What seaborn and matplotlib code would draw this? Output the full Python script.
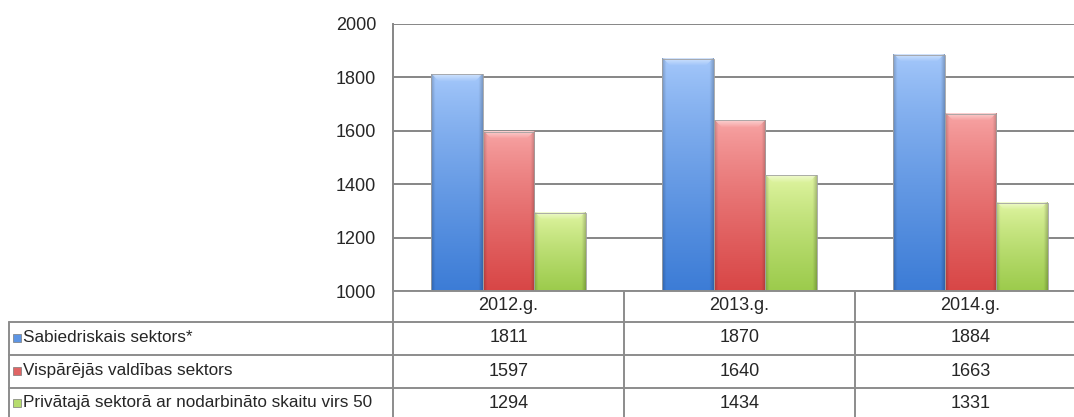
import numpy as np
import pandas as pd
import matplotlib
matplotlib.use("Agg")
import matplotlib.pyplot as plt
import matplotlib.transforms as mtransforms
from matplotlib.colors import to_rgb
from matplotlib.patches import Rectangle
import seaborn as sns

# dati
years = ["2012.g.", "2013.g.", "2014.g."]
series = ["Sabiedriskais sektors*", "Vispārējās valdības sektors",
          "Privātajā sektorā ar nodarbināto skaitu virs 50"]
sabiedriskais = [1811, 1870, 1884]
visparejas = [1597, 1640, 1663]
privatais = [1294, 1434, 1331]
yticks = [1000, 1200, 1400, 1600, 1800, 2000]

# krāsas (augša, apakša)
tops = ["#a6c9fb", "#f8a6a6", "#e2f6a4"]
bottoms = ["#3c7cd6", "#d84646", "#9ccb4c"]
mids = ["#5d95e4", "#e06464", "#b6dc6e"]

df = pd.DataFrame({
    "gads": years * 3,
    "sektors": [series[0]] * 3 + [series[1]] * 3 + [series[2]] * 3,
    "vertiba": sabiedriskais + visparejas + privatais,
})

W, H = 1074, 417
AX_H = 267
sns.set_style("white")
plt.rcParams["font.family"] = ["Liberation Sans", "DejaVu Sans"]

fig = plt.figure(figsize=(W / 100, H / 100), dpi=100)
ax = fig.add_axes([393 / W, 1 - 291 / H, 693 / W, AX_H / H])

sns.barplot(data=df, x="gads", y="vertiba", hue="sektors", hue_order=series,
            palette=mids, width=0.67, ax=ax, legend=False, zorder=3)

ax.set_ylim(1000, 2000)
ax.set_xlim(-0.5, 2.5)
ax.set_yticks(yticks)
ax.set_xticks([])
ax.set_xlabel("")
ax.set_ylabel("")
ax.tick_params(axis="y", labelsize=13, length=0, pad=12)
ax.grid(axis="y", color="#868686", linewidth=1.4, zorder=0)
for s in ["top", "bottom", "right"]:
    ax.spines[s].set_visible(False)
ax.spines["left"].set_color("#868686")
ax.spines["left"].set_linewidth(1.4)

# gradienti stabiņiem
def grad_img(top, bottom, npx):
    t = np.array(to_rgb(top))
    b = np.array(to_rgb(bottom))
    v = np.linspace(0, 1, npx)[:, None] ** 0.8
    img = t[None, None, :] * (1 - v[..., None]) + b[None, None, :] * v[..., None]
    img = np.repeat(img, 50, axis=1)
    hx = np.linspace(-1, 1, 50)
    shade = 1 - 0.2 * np.clip(np.abs(hx) - 0.85, 0, None) / 0.15
    img = img * shade[None, :, None]
    # slīpā mala augšā
    for r in range(min(7, npx)):
        a = 0.45 * (1 - r / 7)
        img[r, r + 1:50 - r - 1, :] = img[r, r + 1:50 - r - 1, :] * (1 - a) + a
    return np.clip(img, 0, 1)

for i, bar in enumerate(ax.patches[:9]):
    k = i // 3
    x0 = bar.get_x()
    w = bar.get_width()
    h = bar.get_height()
    npx = max(int((h - 1000) / 1000 * AX_H), 2)
    bar.set_facecolor("none")
    bar.set_edgecolor("#a0a0a0")
    bar.set_linewidth(0.6)
    ax.imshow(grad_img(tops[k], bottoms[k], npx), extent=[x0, x0 + w, 1000, h],
              aspect="auto", zorder=2.5, interpolation="bilinear")
ax.set_xlim(-0.5, 2.5)
ax.set_ylim(1000, 2000)

# datu tabula
def fy(px):
    return 1 - px / H

line_c = "#8c8c8c"
lw = 1.4
blend = mtransforms.blended_transform_factory(ax.transData, fig.transFigure)

for ypx in [291, 322, 355, 388]:
    x_start = 393 / W if ypx == 291 else 9 / W
    fig.add_artist(plt.Line2D([x_start, 1.0], [fy(ypx), fy(ypx)],
                              color=line_c, linewidth=lw, zorder=5))
fig.add_artist(plt.Line2D([9 / W, 9 / W], [fy(322), 0], color=line_c, linewidth=lw))
for xb in [-0.5, 0.5, 1.5]:
    fig.add_artist(plt.Line2D([xb, xb], [fy(291), 0], color=line_c, linewidth=lw,
                              transform=blend))

for j, yr in enumerate(years):
    fig.text(j, fy(306), yr, transform=blend, ha="center", va="center", fontsize=13)

rows = [sabiedriskais, visparejas, privatais]
row_y = [338, 371, 403]
for k, (name, vals) in enumerate(zip(series, rows)):
    fig.add_artist(Rectangle((13 / W, fy(row_y[k] + 4)), 8 / W, 8 / H,
                             transform=fig.transFigure, facecolor=mids[k],
                             edgecolor="#7a7a7a", linewidth=0.5))
    fig.text(23 / W, fy(row_y[k]), name, ha="left", va="center", fontsize=12.3)
    for j, v in enumerate(vals):
        fig.text(j, fy(row_y[k]), str(v), transform=blend, ha="center",
                 va="center", fontsize=13)

fig.savefig("out.png", dpi=100)
